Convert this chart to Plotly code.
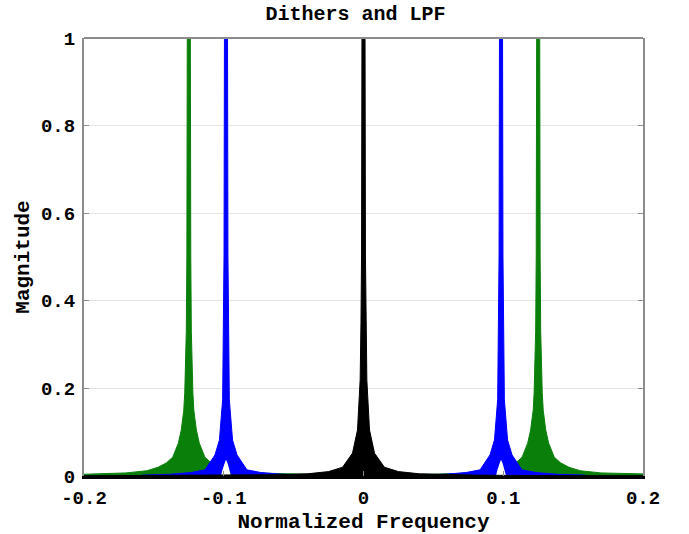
import plotly.graph_objects as go

# Peak centres (normalized frequency)
green_centers = [-0.125, 0.125]
blue_centers = [-0.0984, 0.0984]
black_center = 0.0

# Envelope: offset from centre -> magnitude
green_off = [0.0, 0.0011, 0.0014, 0.0018, 0.0029, 0.0036, 0.0054, 0.0075, 0.0115, 0.016, 0.022, 0.030, 0.045, 0.075, 0.1]
green_mag = [1.0, 1.0, 0.5, 0.33, 0.19, 0.15, 0.105, 0.075, 0.043, 0.03, 0.02, 0.012, 0.007, 0.004, 0.003]

blue_off = [0.0, 0.0011, 0.0014, 0.0018, 0.0024, 0.0047, 0.0079, 0.015, 0.025, 0.04, 0.06]
blue_mag = [1.0, 1.0, 0.5, 0.35, 0.174, 0.082, 0.048, 0.014, 0.008, 0.004, 0.002]
notch_off = [0.0036, 0.0025, 0.0012, 0.0]
notch_mag = [0.0, 0.014, 0.028, 0.037]

black_off = [0.0, 0.0011, 0.0014, 0.0018, 0.0024, 0.0043, 0.0079, 0.015, 0.025, 0.04, 0.06, 0.08, 0.12, 0.2]
black_mag = [1.0, 1.0, 0.5, 0.35, 0.219, 0.105, 0.052, 0.02, 0.01, 0.005, 0.003, 0.002, 0.001, 0.0005]

x_ticks = [-0.2, -0.1, 0, 0.1, 0.2]
x_tick_text = ["-0.2", "-0.1", "0", "0.1", "0.2"]
y_ticks = [0, 0.2, 0.4, 0.6, 0.8, 1]
y_tick_text = ["0", "0.2", "0.4", "0.6", "0.8", "1"]

GREEN = "#0a800a"
BLUE = "#0000ff"
BLACK = "#000000"
FONT = "Liberation Mono"


def mirror(center, off, mag):
    xs = [center - o for o in reversed(off[1:])] + [center + o for o in off]
    ys = list(reversed(mag[1:])) + list(mag)
    return xs, ys


fig = go.Figure()

for c in green_centers:
    xs, ys = mirror(c, green_off, green_mag)
    fig.add_trace(go.Scatter(x=xs, y=ys, mode="lines", fill="tozeroy",
                             line=dict(color=GREEN, width=1), fillcolor=GREEN,
                             hoverinfo="skip", showlegend=False))

for c in blue_centers:
    ox, oy = mirror(c, blue_off, blue_mag)
    px = ox + [c + blue_off[-1]] + [c + o for o in notch_off] + [c - o for o in reversed(notch_off[:-1])] + [c - blue_off[-1]]
    py = oy + [0.0] + notch_mag + list(reversed(notch_mag[:-1])) + [0.0]
    fig.add_trace(go.Scatter(x=px, y=py, mode="lines", fill="toself",
                             line=dict(color=BLUE, width=1), fillcolor=BLUE,
                             hoverinfo="skip", showlegend=False))
    nx = [c + o for o in notch_off] + [c - o for o in reversed(notch_off[:-1])]
    ny = notch_mag + list(reversed(notch_mag[:-1]))
    fig.add_trace(go.Scatter(x=nx, y=ny, mode="lines", fill="toself",
                             line=dict(color="white", width=0), fillcolor="white",
                             hoverinfo="skip", showlegend=False))

bx, by = mirror(black_center, black_off, black_mag)
fig.add_trace(go.Scatter(x=bx, y=by, mode="lines", fill="tozeroy",
                         line=dict(color=BLACK, width=1), fillcolor=BLACK,
                         hoverinfo="skip", showlegend=False))

fig.update_layout(
    width=689, height=534,
    margin=dict(l=84, r=46, t=38, b=58),
    paper_bgcolor="white", plot_bgcolor="white",
    title=dict(text="Dithers and LPF", x=355.5 / 689, xanchor="center",
               y=1 - 13 / 534, yanchor="middle",
               font=dict(family=FONT, size=20, color="black", weight="bold")),
    xaxis=dict(range=[-0.2, 0.2], tickvals=x_ticks, ticktext=x_tick_text,
               automargin=False, ticklabelstandoff=2,
               showgrid=False, zeroline=False, showline=True, linecolor="black",
               linewidth=3, mirror=False, ticks="inside", ticklen=5,
               tickcolor="#888888",
               tickfont=dict(family=FONT, size=19, color="black", weight="bold"),
               title=dict(text="Normalized Frequency", standoff=12,
                          font=dict(family=FONT, size=21, color="black", weight="bold"))),
    yaxis=dict(range=[0, 1], tickvals=y_ticks, ticktext=y_tick_text,
               automargin=False, ticklabelstandoff=3,
               showgrid=True, gridcolor="#e4e4e4", gridwidth=1, zeroline=False,
               showline=True, linecolor="#8c8c8c", linewidth=2, mirror="ticks",
               ticks="inside", ticklen=5, tickcolor="#8c8c8c",
               tickfont=dict(family=FONT, size=19, color="black", weight="bold"),
               title=dict(text="Magnitude", standoff=6,
                          font=dict(family=FONT, size=21, color="black", weight="bold"))),
    shapes=[dict(type="line", xref="paper", yref="paper", x0=0, x1=1, y0=1, y1=1,
                 line=dict(color="#8c8c8c", width=2))],
)

fig.write_html("out.html", config={"displayModeBar": False},
               post_script="document.body.style.margin='0';document.body.style.padding='0';")
